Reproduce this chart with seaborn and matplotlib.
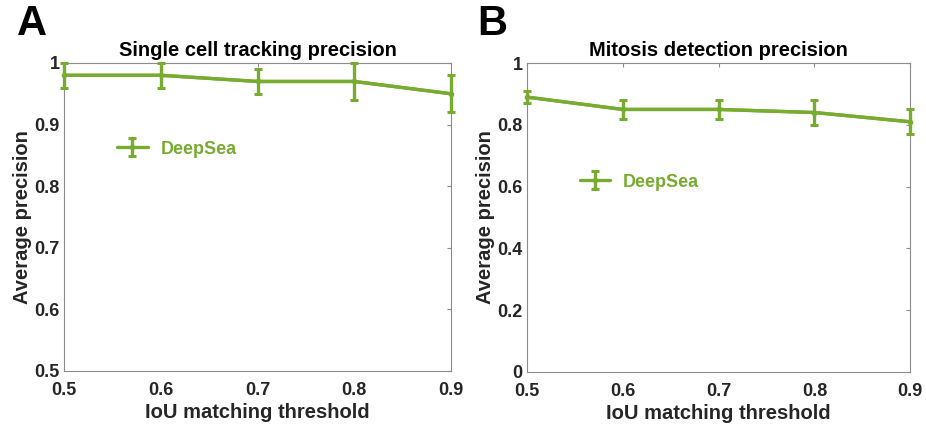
import matplotlib
matplotlib.use("Agg")
import matplotlib.pyplot as plt
import seaborn as sns
import pandas as pd
import numpy as np

thresholds = [0.5, 0.6, 0.7, 0.8, 0.9]
tracking_precision = [0.98, 0.98, 0.97, 0.97, 0.95]
tracking_err = [0.02, 0.02, 0.02, 0.03, 0.03]
mitosis_precision = [0.89, 0.85, 0.85, 0.84, 0.81]
mitosis_err = [0.02, 0.03, 0.03, 0.04, 0.04]
series_label = "DeepSea"
titles = ["Single cell tracking precision", "Mitosis detection precision"]
panel_letters = ["A", "B"]

sns.set_style("white")
plt.rcParams['font.family'] = ['Liberation Sans', 'DejaVu Sans']
plt.rcParams['font.weight'] = 'bold'

green = "#77AC30"
txt = "#262626"
grey = "#8c8c8c"

fig = plt.figure(figsize=(9.26, 4.29), dpi=100)
axA = fig.add_axes([0.0691, 0.1352, 0.418, 0.718])
axB = fig.add_axes([0.569, 0.1329, 0.414, 0.720])

def draw(ax, y, err, ylim, yticks, yticklabels, legpos, title, letter, letter_x):
    df = pd.DataFrame({"x": thresholds, "y": y})
    sns.lineplot(data=df, x="x", y="y", ax=ax, color=green, lw=2.4, legend=False)
    ax.errorbar(thresholds, y, yerr=err, color=green, lw=2.4, capsize=3,
                capthick=2.2, marker='o', ms=3, label=series_label, clip_on=False, zorder=5)
    ax.set_xlim(0.5, 0.9)
    ax.set_ylim(*ylim)
    ax.set_xticks(thresholds)
    ax.set_xticklabels([f"{t:g}" for t in thresholds])
    ax.set_yticks(yticks)
    ax.set_yticklabels(yticklabels)
    ax.tick_params(direction='in', length=3, width=0.8, color=grey, labelsize=13,
                   labelcolor=txt, top=True, right=True)
    ax.tick_params(axis='x', pad=8)
    ax.tick_params(axis='y', pad=3)
    for lab in ax.get_xticklabels() + ax.get_yticklabels():
        lab.set_fontweight('bold')
    for s in ax.spines.values():
        s.set_color(grey)
        s.set_linewidth(0.8)
    ax.set_xlabel("IoU matching threshold", fontsize=14.5, fontweight='bold', color=txt, labelpad=3)
    ax.set_ylabel("Average precision", fontsize=14.5, fontweight='bold', color=txt, labelpad=2)
    ax.set_title(title, fontsize=14.5, fontweight='bold', color='black', pad=5)
    leg = ax.legend(loc='center left', bbox_to_anchor=legpos, frameon=False,
                    handlelength=1.7, fontsize=13, labelcolor=green, handletextpad=0.7)
    for t in leg.get_texts():
        t.set_fontweight('bold')
    fig.text(letter_x, 0.945, letter, fontsize=30, fontweight='bold', color='black',
             ha='left', va='center')

draw(axA, tracking_precision, tracking_err, (0.5, 1.0),
     [0.5, 0.6, 0.7, 0.8, 0.9, 1.0], ["0.5", "0.6", "0.7", "0.8", "0.9", "1"],
     (0.095, 0.72), titles[0], panel_letters[0], 0.018)
draw(axB, mitosis_precision, mitosis_err, (0.0, 1.0),
     [0, 0.2, 0.4, 0.6, 0.8, 1.0], ["0", "0.2", "0.4", "0.6", "0.8", "1"],
     (0.095, 0.615), titles[1], panel_letters[1], 0.515)

fig.savefig("out.png", dpi=100)
